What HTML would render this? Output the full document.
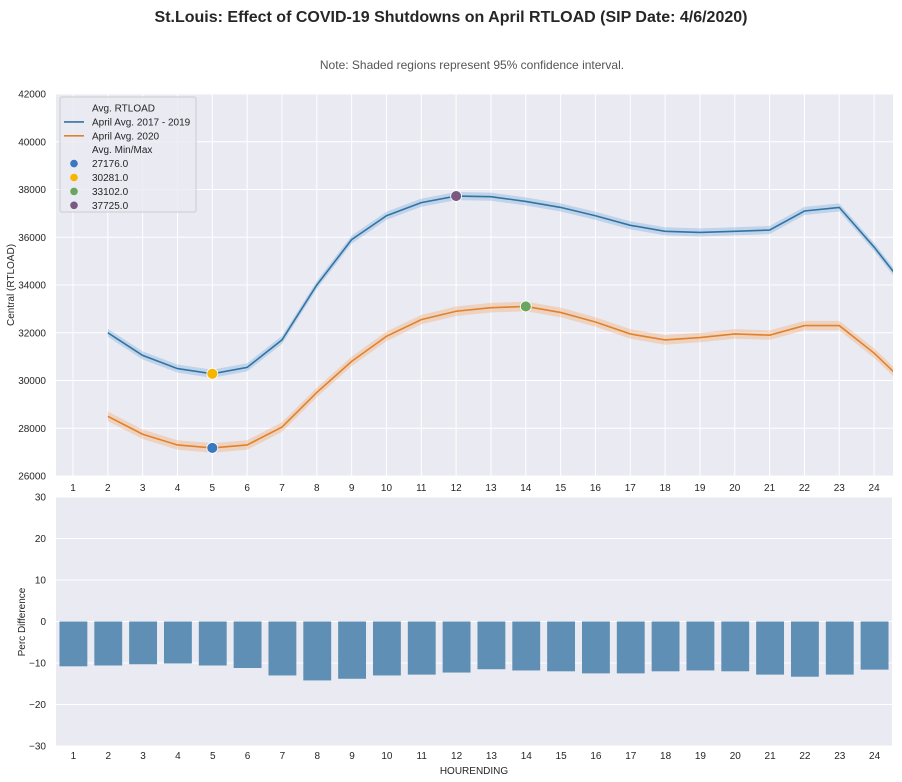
<!DOCTYPE html>
<html><head><meta charset="utf-8"><style>
html,body{margin:0;padding:0;background:#fff;width:902px;height:782px;overflow:hidden}
svg{display:block;font-family:"Liberation Sans",sans-serif}
</style></head><body>
<svg id="s" width="902" height="782" xmlns="http://www.w3.org/2000/svg">
<text x="451" y="22" text-anchor="middle" font-size="16" font-weight="bold" fill="#262626">St.Louis: Effect of COVID-19 Shutdowns on April RTLOAD (SIP Date: 4/6/2020)</text>
<text x="472" y="69" text-anchor="middle" font-size="12" fill="#555">Note: Shaded regions represent 95% confidence interval.</text>
<g id="top"></g><g id="bot"></g>
<text transform="translate(14,285) rotate(-90)" text-anchor="middle" font-size="10" fill="#262626">Central (RTLOAD)</text>
<text transform="translate(25,622) rotate(-90)" text-anchor="middle" font-size="10" fill="#262626">Perc Difference</text>
<text x="474" y="774" text-anchor="middle" font-size="10" fill="#262626">HOURENDING</text>
</svg>
<script>
var NS="http://www.w3.org/2000/svg";
function el(p,t,a,txt){var e=document.createElementNS(NS,t);for(var k in a)e.setAttribute(k,a[k]);if(txt!=null)e.textContent=txt;p.appendChild(e);return e;}
var T=document.getElementById('top'),B=document.getElementById('bot');
var L=56,R=893,Y0=94,Y1=476;
el(T,'rect',{x:L,y:Y0,width:R-L,height:Y1-Y0,fill:'#eaeaf2'});
function tx(h){return 73+(h-1)*34.83;}
function ty(v){return Y0+(42000-v)*(Y1-Y0)/16000;}
for(var v=26000;v<=42000;v+=2000){var y=ty(v);el(T,'line',{x1:L,x2:R,y1:y,y2:y,stroke:'#fff','stroke-width':1});el(T,'text',{x:L-10,y:y+3.5,'text-anchor':'end','font-size':10,fill:'#262626'},v);}
for(var h=1;h<=24;h++){var x=tx(h);el(T,'line',{x1:x,x2:x,y1:Y0,y2:Y1,stroke:'#fff','stroke-width':1});el(T,'text',{x:x,y:491,'text-anchor':'middle','font-size':10,fill:'#262626'},h);}
var blue=[32000,31050,30500,30280,30550,31700,34000,35900,36900,37450,37725,37700,37500,37250,36900,36500,36250,36200,36250,36300,37100,37250,35590,33730];
var orng=[28500,27750,27300,27176,27300,28050,29500,30800,31850,32550,32900,33050,33102,32850,32450,31950,31700,31800,31950,31900,32300,32300,31150,29750];
var cp=el(T,'clipPath',{id:'c'});el(cp,'rect',{x:L,y:Y0,width:R-L,height:Y1-Y0});
function series(d,col,fc,w){var up=[],dn=[],ln=[];for(var i=0;i<d.length;i++){var x=tx(i+2);up.push(x+','+ty(d[i]+w));dn.unshift(x+','+ty(d[i]-w));ln.push(x+','+ty(d[i]));}
el(T,'polygon',{points:up.concat(dn).join(' '),fill:fc,'fill-opacity':0.35,'clip-path':'url(#c)'});
el(T,'polyline',{points:ln.join(' '),fill:'none',stroke:col,'stroke-width':1.6,'clip-path':'url(#c)'});}
series(blue,'#3274a1','#6fa8dc',170);
series(orng,'#e1812c','#f5a564',200);
[[5,27176,'#3a78c0'],[5,30281,'#f7b500'],[14,33102,'#6aa65f'],[12,37725,'#7b5a82']].forEach(function(p){el(T,'circle',{cx:tx(p[0]),cy:ty(p[1]),r:5.5,fill:p[2],stroke:'#fff','stroke-width':0.8});});
el(T,'rect',{x:60,y:97,width:136,height:115,fill:'#eaeaf2','fill-opacity':0.8,stroke:'#ccc','stroke-width':1,rx:2});
var items=[['Avg. RTLOAD',null],['April Avg. 2017 - 2019','l#3274a1'],['April Avg. 2020','l#e1812c'],['Avg. Min/Max',null],['27176.0','c#3a78c0'],['30281.0','c#f7b500'],['33102.0','c#6aa65f'],['37725.0','c#7b5a82']];
items.forEach(function(it,i){var y=108+i*13.9;el(T,'text',{x:92,y:y+3.5,'font-size':10,fill:'#262626'},it[0]);
if(it[1]){var c=it[1].slice(1);if(it[1][0]=='l')el(T,'line',{x1:64,x2:84,y1:y,y2:y,stroke:c,'stroke-width':1.6});else el(T,'circle',{cx:74,cy:y,r:3.8,fill:c});}});
var BL=56,BR=892,BY0=497,BY1=746;
el(B,'rect',{x:BL,y:BY0,width:BR-BL,height:BY1-BY0,fill:'#eaeaf2'});
function by(v){return BY0+(30-v)*(BY1-BY0)/60;}
for(var v=-30;v<=30;v+=10){var y=by(v);el(B,'line',{x1:BL,x2:BR,y1:y,y2:y,stroke:'#fff','stroke-width':1});el(B,'text',{x:BL-10,y:y+3.5,'text-anchor':'end','font-size':10,fill:'#262626'},v<0?'\u2212'+(-v):v);}
var bars=[-10.8,-10.6,-10.3,-10.1,-10.6,-11.2,-13,-14.2,-13.8,-13,-12.8,-12.3,-11.5,-11.8,-12,-12.5,-12.5,-12,-11.8,-12,-12.8,-13.3,-12.8,-11.6];
var bw=(BR-BL)/24;
bars.forEach(function(b,i){var cx=BL+bw*(i+0.5);el(B,'rect',{x:cx-bw*0.4,y:by(0),width:bw*0.8,height:by(b)-by(0),fill:'#5f8fb4'});el(B,'text',{x:cx,y:759,'text-anchor':'middle','font-size':10,fill:'#262626'},i+1);});
</script>
</body></html>
